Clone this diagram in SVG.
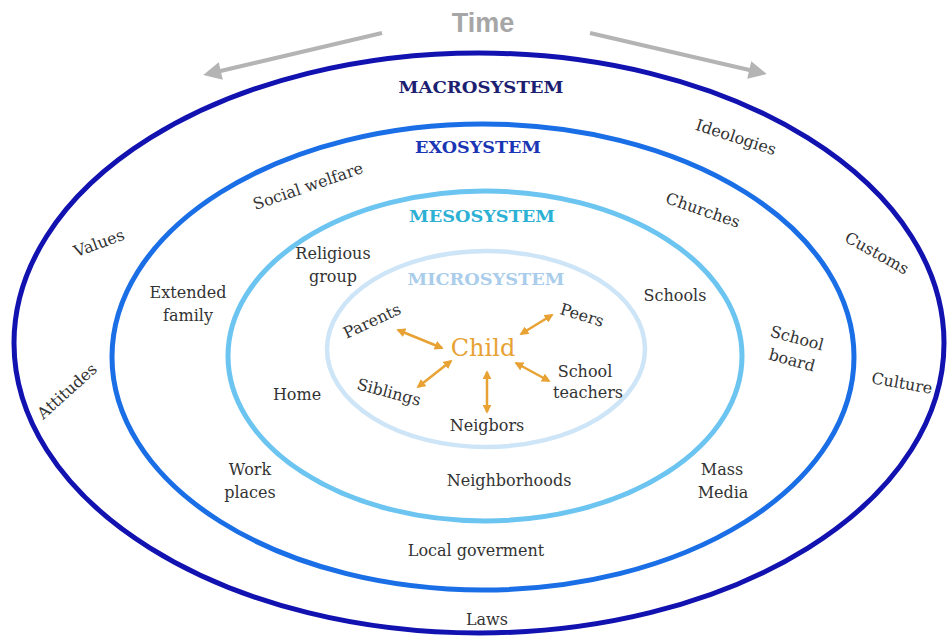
<svg xmlns="http://www.w3.org/2000/svg" width="949" height="640" viewBox="0 0 949 640">
  <defs>
    <marker id="grayHead" viewBox="0 0 10 10" refX="5" refY="5" markerWidth="5" markerHeight="4.5" orient="auto" markerUnits="strokeWidth">
      <path d="M0,0 L10,5 L0,10 Z" fill="#b4b4b4"/>
    </marker>
    <marker id="orangeHead" viewBox="0 0 10 10" refX="8" refY="5" markerWidth="3.6" markerHeight="3.6" orient="auto-start-reverse" markerUnits="strokeWidth">
      <path d="M0,0 L10,5 L0,10 Z" fill="#e8a234"/>
    </marker>
    <style>
      .ring { fill: none; }
      .lbl { font-family: "DejaVu Serif", "Liberation Serif", serif; font-size: 16px; fill: #333333; text-anchor: middle; }
      .head { font-family: "DejaVu Serif", "Liberation Serif", serif; font-weight: bold; font-size: 17px; text-anchor: middle; }
      .link { stroke: #e8a234; stroke-width: 2.5; fill: none; marker-start: url(#orangeHead); marker-end: url(#orangeHead); }
      .time { stroke: #b4b4b4; stroke-width: 4; fill: none; marker-end: url(#grayHead); }
    </style>
  </defs>

  <rect width="949" height="640" fill="#ffffff"/>

  <!-- Time arrows -->
  <g id="time">
    <text x="483" y="32" font-family="Liberation Sans, Arial, sans-serif" font-weight="bold" font-size="27" fill="#a6a6a6" text-anchor="middle">Time</text>
    <line class="time" x1="382" y1="33" x2="212" y2="73"/>
    <line class="time" x1="590" y1="33" x2="758" y2="72"/>
  </g>

  <!-- Nested system rings -->
  <g id="macrosystem">
    <ellipse class="ring" cx="479" cy="343" rx="465" ry="290" stroke="#1212b0" stroke-width="5"/>
    <text class="head" x="481" y="93" fill="#1c2070" textLength="165" lengthAdjust="spacingAndGlyphs">MACROSYSTEM</text>
  </g>
  <g id="exosystem">
    <ellipse class="ring" cx="483" cy="357" rx="371" ry="233" stroke="#1a6ee6" stroke-width="5"/>
    <text class="head" x="478" y="153" fill="#1a36b4" textLength="126" lengthAdjust="spacingAndGlyphs">EXOSYSTEM</text>
  </g>
  <g id="mesosystem">
    <ellipse class="ring" cx="485" cy="356" rx="257" ry="165" stroke="#6cc4f0" stroke-width="5"/>
    <text class="head" x="482" y="222" fill="#2cb0d4" textLength="146" lengthAdjust="spacingAndGlyphs">MESOSYSTEM</text>
  </g>
  <g id="microsystem">
    <ellipse class="ring" cx="486" cy="349" rx="159" ry="98" stroke="#cde5f7" stroke-width="4.5"/>
    <text class="head" x="486" y="285" fill="#a9cdea" textLength="157" lengthAdjust="spacingAndGlyphs">MICROSYSTEM</text>
  </g>

  <!-- Macrosystem labels -->
  <g id="macro-labels">
    <text class="lbl" transform="translate(736,137) rotate(18)" dy="0.35em">Ideologies</text>
    <text class="lbl" transform="translate(99,243) rotate(-20)" dy="0.35em">Values</text>
    <text class="lbl" transform="translate(877,253) rotate(29)" dy="0.35em">Customs</text>
    <text class="lbl" transform="translate(67,391) rotate(-42)" dy="0.35em">Attitudes</text>
    <text class="lbl" transform="translate(902,383) rotate(10)" dy="0.35em">Culture</text>
    <text class="lbl" x="487" y="625">Laws</text>
  </g>

  <!-- Exosystem labels -->
  <g id="exo-labels">
    <text class="lbl" transform="translate(308,186) rotate(-19)" dy="0.35em">Social welfare</text>
    <text class="lbl" transform="translate(703,210) rotate(19)" dy="0.35em">Churches</text>
    <text class="lbl" x="188" y="298">Extended</text>
    <text class="lbl" x="188" y="321">family</text>
    <text class="lbl" transform="translate(797,338) rotate(15)" dy="0.35em">School</text>
    <text class="lbl" transform="translate(792,360) rotate(15)" dy="0.35em">board</text>
    <text class="lbl" x="250" y="475">Work</text>
    <text class="lbl" x="250" y="498">places</text>
    <text class="lbl" x="722" y="475">Mass</text>
    <text class="lbl" x="723" y="498">Media</text>
    <text class="lbl" x="476" y="556">Local goverment</text>
  </g>

  <!-- Mesosystem labels -->
  <g id="meso-labels">
    <text class="lbl" x="333" y="259">Religious</text>
    <text class="lbl" x="333" y="282">group</text>
    <text class="lbl" x="675" y="301">Schools</text>
    <text class="lbl" x="297" y="400">Home</text>
    <text class="lbl" x="509" y="486">Neighborhoods</text>
  </g>

  <!-- Microsystem: child and surroundings -->
  <g id="child">
    <text x="483" y="356" font-family="DejaVu Serif, Liberation Serif, serif" font-size="24" fill="#e8a234" text-anchor="middle">Child</text>
  </g>
  <g id="micro-labels">
    <text class="lbl" transform="translate(372,321) rotate(-25)" dy="0.35em">Parents</text>
    <text class="lbl" transform="translate(582,315) rotate(17)" dy="0.35em">Peers</text>
    <text class="lbl" transform="translate(389,392) rotate(15)" dy="0.35em">Siblings</text>
    <text class="lbl" x="585" y="377">School</text>
    <text class="lbl" x="588" y="398">teachers</text>
    <text class="lbl" x="487" y="431">Neigbors</text>
  </g>

  <!-- Connectors between child and microsystem members -->
  <g id="connectors">
    <line class="link" x1="398" y1="330" x2="442" y2="348"/>
    <line class="link" x1="521" y1="334" x2="552" y2="315"/>
    <line class="link" x1="516" y1="363" x2="549" y2="381"/>
    <line class="link" x1="418" y1="387" x2="451" y2="361"/>
    <line class="link" x1="487" y1="372" x2="487" y2="412"/>
  </g>
</svg>
